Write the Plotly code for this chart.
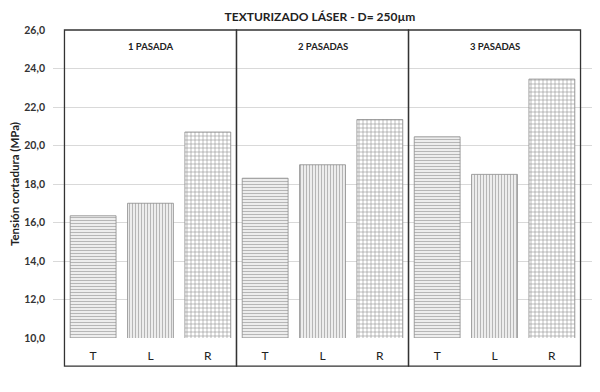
import plotly.graph_objects as go

groups = ["1 PASADA", "2 PASADAS", "3 PASADAS"]
series = ["T", "L", "R"]
t_vals = [16.35, 18.3, 20.45]
l_vals = [17.0, 19.0, 18.5]
r_vals = [20.7, 21.35, 23.45]
y_ticks = [10, 12, 14, 16, 18, 20, 22, 24, 26]

FONT = "Lato, 'Open Sans', sans-serif"

patterns = {
    "T": dict(shape="-", size=3, solidity=0.5, fgcolor="#6e6e6e", bgcolor="white"),
    "L": dict(shape="|", size=3, solidity=0.5, fgcolor="#6e6e6e", bgcolor="white"),
    "R": dict(shape="+", size=4, solidity=0.3, fgcolor="#333333", bgcolor="white"),
}

fig = go.Figure()
for k, (name, vals) in enumerate(zip(series, [t_vals, l_vals, r_vals])):
    xs = [g * 3 + k for g in range(len(groups))]
    fig.add_trace(go.Bar(
        x=xs, y=vals, name=name, width=0.8,
        marker=dict(color="white", pattern=patterns[name],
                    line=dict(color="#8c8c8c", width=0.8)),
        showlegend=False,
    ))

tickvals = list(range(len(groups) * len(series)))
ticktext = series * len(groups)

for g, label in enumerate(groups):
    fig.add_shape(type="rect", xref="x", yref="paper",
                  x0=g * 3 - 0.5, x1=g * 3 + 2.5, y0=-0.091, y1=1.0,
                  line=dict(color="#333333", width=1.3), layer="above")
    fig.add_annotation(x=g * 3 + 1, y=0.947, xref="x", yref="paper",
                       text="<b>%s</b>" % label, showarrow=False,
                       font=dict(family=FONT, size=9.5, color="#222222"),
                       yanchor="middle")

fig.update_layout(
    width=600, height=392,
    margin=dict(l=45, r=16, t=22, b=62),
    paper_bgcolor="white", plot_bgcolor="white",
    separators=",.",
    barmode="overlay",
    title=dict(text="<b>TEXTURIZADO LÁSER - D= 250µm</b>",
               x=0.52, xanchor="center", y=1 - 9 / 392, yanchor="middle",
               xref="container", yref="container",
               font=dict(family=FONT, size=12, color="#222222")),
    xaxis=dict(range=[-0.7, 8.7], tickvals=tickvals, ticktext=ticktext,
               showgrid=False, zeroline=False, showline=False,
               ticks="", ticklabelstandoff=9, automargin=False,
               tickfont=dict(family=FONT, size=12, color="#222222")),
    yaxis=dict(range=[10, 26], tickvals=y_ticks, tickformat=".1f",
               showgrid=True, gridcolor="#d9d9d9", gridwidth=1,
               zeroline=False, showline=False, ticks="",
               ticklabelstandoff=7, automargin=False,
               tickfont=dict(family=FONT, size=10.5, color="#333333", weight="bold"),
               title=dict(text="<b>Tensión cortadura (MPa)</b>", standoff=3,
                          font=dict(family=FONT, size=11.5, color="#222222"))),
)

fig.write_html("out.html")
